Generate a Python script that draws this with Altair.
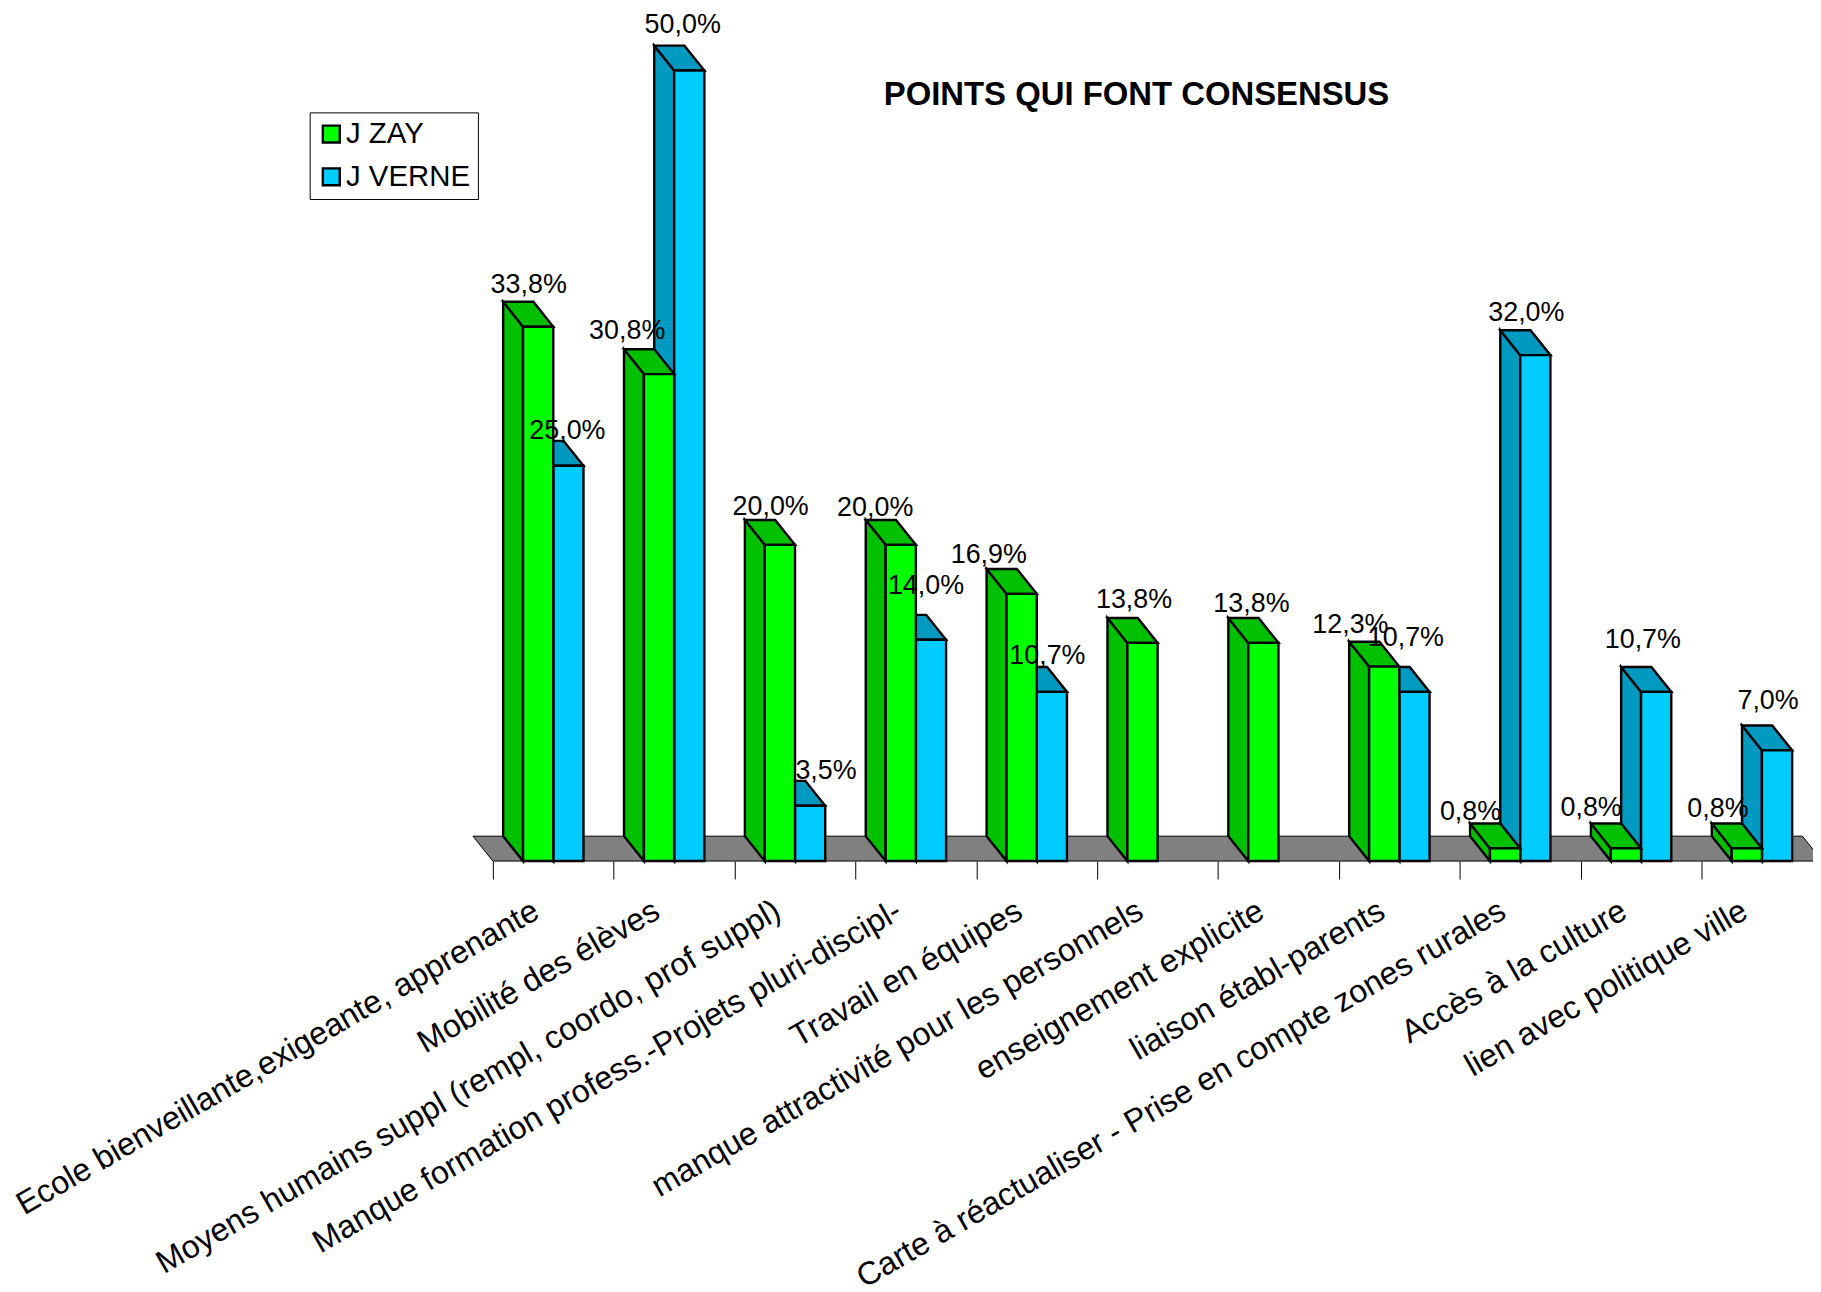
import json
import altair as alt
import pandas as pd

categories = ["Ecole bienveillante,exigeante, apprenante", "Mobilité des élèves",
              "Moyens humains suppl (rempl, coordo, prof suppl)",
              "Manque formation profess.-Projets pluri-discipl-", "Travail en équipes",
              "manque attractivité pour les personnels", "enseignement explicite",
              "liaison établ-parents", "Carte à réactualiser - Prise en compte zones rurales",
              "Accès à la culture", "lien avec politique ville"]
zay = [33.8, 30.8, 20.0, 20.0, 16.9, 13.8, 13.8, 12.3, 0.8, 0.8, 0.8]
verne = [25.0, 50.0, 3.5, 14.0, 10.7, None, None, 10.7, 32.0, 10.7, 7.0]
# hand placement of the data labels in the original (pixels from the bar's back-top centre)
zay_nudge_x = [10.5, -12, 10.7, -5.7, -13, 11.5, 8, -14, -14.7, -15, -9]
zay_nudge_y = [-17, -18, -13, -12, -13.6, -18, -14, -17, -12, -16, -15]
verne_nudge_x = [19, 13.4, 36, 15, 15.5, 0, 0, 11.4, 11, 6.6, 11]
verne_nudge_y = [-10, -21, -10, -29, -11, 0, 0, -29, -17, -27, -25]

PX_PER_CAT = 121.4
PX_PER_UNIT = 15.88
DEPTH_X = 20 / PX_PER_CAT
DEPTH_Y = 25 / PX_PER_UNIT
W, H = 1813, 1284
X0, Y0 = 495 - 8, 862 - 8
x_scale = alt.Scale(domain=[-X0 / PX_PER_CAT, (W - X0) / PX_PER_CAT], range=[0, W], nice=False, zero=False)
y_scale = alt.Scale(domain=[(H - Y0) / -PX_PER_UNIT, Y0 / PX_PER_UNIT], range=[H, 0], nice=False, zero=False)
axis = alt.Axis(values=list(range(11)), domain=False, grid=False, ticks=True, tickSize=18, tickColor="black",
                tickWidth=1, offset=Y0 - H, labelAngle=330, labelAlign="right", labelBaseline="middle",
                labelFont="Liberation Sans", labelFontSize=32.3, labelColor="black", labelOffset=43, labelPadding=29,
                labelOverlap=False, labelFlush=False, labelBound=False, labelLimit=1200,
                labelExpr=json.dumps(categories) + "[datum.value]")
X = lambda f, **k: alt.X(f, type="quantitative", scale=x_scale, title=None, axis=axis, **k)
Y = lambda f, **k: alt.Y(f, type="quantitative", scale=y_scale, title=None, axis=None, **k)

FRONT = {"J ZAY": "#00FF00", "J VERNE": "#00CCFF"}
DARK = {"J ZAY": "#00C000", "J VERNE": "#0099C0"}
OFFSET = {"J ZAY": 0.25, "J VERNE": 0.5}


def series_rows(name, values):
    front, side, top = [], [], []
    for i, v in enumerate(values):
        if v is None:
            continue
        a = i + OFFSET[name]
        b = a + 0.25
        front.append(dict(name=name, a=a, b=b, v=v, base=0))
        side += [dict(i=i, x=a - DEPTH_X, y=v + DEPTH_Y, y2=DEPTH_Y), dict(i=i, x=a, y=v, y2=0)]
        top += [dict(i=i, x=a - DEPTH_X, x2=b - DEPTH_X, y=v + DEPTH_Y), dict(i=i, x=a, x2=b, y=v)]
    return pd.DataFrame(front), pd.DataFrame(side), pd.DataFrame(top)


def bar_layers(name, values):
    front, side, top = series_rows(name, values)
    style = dict(stroke="black", strokeWidth=2.4, strokeJoin="miter")
    return [
        alt.Chart(side).mark_area(color=DARK[name], opacity=1, **style).encode(X("x"), Y("y"), alt.Y2("y2"), detail="i:N"),
        alt.Chart(top).mark_area(color=DARK[name], opacity=1, orient="horizontal", **style).encode(X("x"), alt.X2("x2"), Y("y"), detail="i:N"),
        alt.Chart(front).mark_rect(**style).encode(
            X("a"), alt.X2("b"), Y("v"), alt.Y2("base"),
            color=alt.Color("name:N", scale=alt.Scale(domain=list(FRONT), range=list(FRONT.values())),
                            legend=alt.Legend(orient="none", legendX=303, legendY=102, title=None,
                                              fillColor="white", strokeColor="black", padding=7,
                                              labelFont="Liberation Sans", labelFontSize=29.5, labelColor="black",
                                              symbolType="square", symbolSize=289, symbolStrokeColor="black",
                                              symbolStrokeWidth=2.4, symbolOpacity=1, rowPadding=12, labelOffset=0,
                                              labelLimit=400)),
        ),
    ]


floor = pd.DataFrame([dict(x=-DEPTH_X, x2=11 - DEPTH_X, y=DEPTH_Y), dict(x=0, x2=11, y=0)])
floor_layer = alt.Chart(floor).mark_area(color="#808080", opacity=1, orient="horizontal", stroke="black", strokeWidth=1).encode(
    X("x"), alt.X2("x2"), Y("y"))

rows = []
for name, values, nx, ny in [("J ZAY", zay, zay_nudge_x, zay_nudge_y), ("J VERNE", verne, verne_nudge_x, verne_nudge_y)]:
    for i, v in enumerate(values):
        if v is None:
            continue
        rows.append(dict(x=i + OFFSET[name] + 0.125 - DEPTH_X + nx[i] / PX_PER_CAT,
                         y=v + DEPTH_Y - ny[i] / PX_PER_UNIT,
                         label=f"{v:.1f}%".replace(".", ",")))
text_layer = alt.Chart(pd.DataFrame(rows)).mark_text(font="Liberation Sans", fontSize=27, color="black", baseline="middle", align="center").encode(
    X("x"), Y("y"), text="label:N")

chart = alt.layer(floor_layer, *bar_layers("J VERNE", verne), *bar_layers("J ZAY", zay), text_layer).properties(
    width=W, height=H, padding=0, background="white", autosize=alt.AutoSizeParams(type="none"),
    title=alt.TitleParams("POINTS QUI FONT CONSENSUS", anchor="middle", font="Liberation Sans", fontSize=33, fontWeight="bold",
                          color="black", baseline="middle", dx=227, dy=118, offset=0),
).configure_view(strokeWidth=0, stroke=None)
chart.save("out.html", embed_options={"renderer": "svg", "actions": False})
